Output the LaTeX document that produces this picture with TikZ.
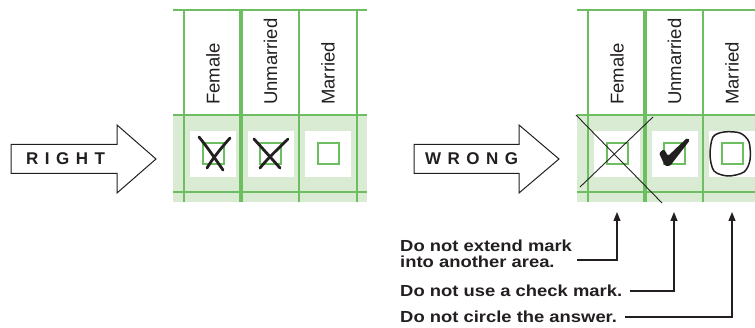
\documentclass[tikz,border=0pt]{standalone}
\usepackage{fontspec}
\setmainfont{Liberation Sans}
\newfontfamily\spacedfont[LetterSpace=38]{Liberation Sans}
\usetikzlibrary{arrows.meta}
\definecolor{gridgreen}{RGB}{108,190,96}
\definecolor{cellgreen}{RGB}{217,236,211}
\definecolor{ink}{RGB}{35,31,32}

\begin{document}
\begin{tikzpicture}[x=1pt,y=-1pt,
    gridline/.style={gridgreen,line width=1.2pt},
    thickline/.style={gridgreen,line width=3.2pt},
    whitebox/.style={fill=white,minimum size=46pt,inner sep=0pt},
    tickbox/.style={draw=gridgreen,line width=2pt,minimum size=21pt,inner sep=0pt},
    header/.style={rotate=90,anchor=west,inner sep=0pt,text=ink,font=\fontsize{18.5}{20}\selectfont},
    banner/.style={anchor=west,inner sep=0pt,text=ink,font=\fontsize{17}{18}\selectfont\spacedfont\bfseries},
    arrowshape/.style={draw=ink,fill=white,line width=1pt},
    penmark/.style={ink,line width=2.8pt,line cap=round},
    note/.style={anchor=west,inner sep=0pt,align=left,xscale=1.15,text=ink,font=\fontsize{16}{16}\selectfont\bfseries},
    callout/.style={ink,line width=1.1pt,-{Triangle[width=7pt,length=9pt]}}]
  \clip (0,0) rectangle (755,328);

  % the two copies of the form
  \foreach \dx/\side in {0/L,404/R} {
    \begin{scope}[xshift=\dx]
      \fill[cellgreen] (173,115) rectangle (367,202);
      \foreach \y in {10,115,192}
        \draw[gridline] (173,\y) -- (367,\y);
      \foreach \x in {184,299,357}
        \draw[gridline] (\x,10) -- (\x,202);
      \draw[thickline] (241,10) -- (241,202);

      \node[header] (\side female) at (213,105) {Female};
      \node[header] (\side unmarried) at (270.5,105) {Unmarried};
      \node[header] (\side married) at (328,105) {Married};

      \node[whitebox] (\side1) at (213,154) {};
      \node[whitebox] (\side2) at (270.5,154) {};
      \node[whitebox] (\side3) at (328,154) {};
      \node[tickbox] at (\side1) {};
      \node[tickbox] at (\side2) {};
      \node[tickbox] at (\side3) {};
    \end{scope}
  }

  % big arrows
  \draw[arrowshape] (11,144.5) -- (117,144.5) -- (117,125) -- (156,159)
    -- (117,193) -- (117,173.5) -- (11,173.5) -- cycle;
  \node[banner] (right) at (26,159) {RIGHT};
  \draw[arrowshape] (414,144.5) -- (519,144.5) -- (519,125) -- (559,159)
    -- (519,193) -- (519,173.5) -- (414,173.5) -- cycle;
  \node[banner] (wrong) at (425,159) {WRONG};

  % good marks
  \draw[penmark] (199,137) .. controls (208,148) and (216,160) .. (223,170);
  \draw[penmark] (230,138) .. controls (222,147) and (213,158) .. (207,168);
  \draw[penmark] (254,139) .. controls (263,149) and (272,159) .. (280,168);
  \draw[penmark] (288,139) .. controls (279,148) and (268,158) .. (260,168);

  % bad marks
  \draw[ink,line width=0.9pt] (576,115) -- (662,203);
  \draw[ink,line width=0.9pt] (653,117) -- (580,187);
  \fill[ink,rounded corners=1.5pt] (659,153) -- (664,149) -- (668,156) -- (687,138)
    -- (690,140) -- (670,166) -- (665,166) -- cycle;
  \draw[ink,line width=1.5pt] plot[smooth cycle] coordinates {(713,137) (724,132)
    (740,133) (749,142) (750,160) (744,172) (728,176) (714,171) (710,155)};

  % remarks
  \coordinate (tip1) at (617,212);
  \coordinate (tip2) at (674,212);
  \coordinate (tip3) at (732,212);
  \node[note] (note1) at (400,254) {Do not extend mark\\into another area.};
  \node[note] (note2) at (400,291) {Do not use a check mark.};
  \node[note] (note3) at (400,317) {Do not circle the answer.};
  \draw[callout] ([xshift=5pt,yshift=-6pt]note1.east) -| (tip1);
  \draw[callout] ([xshift=8pt]note2.east) -| (tip2);
  \draw[callout] ([xshift=8pt]note3.east) -| (tip3);
\end{tikzpicture}
\end{document}
